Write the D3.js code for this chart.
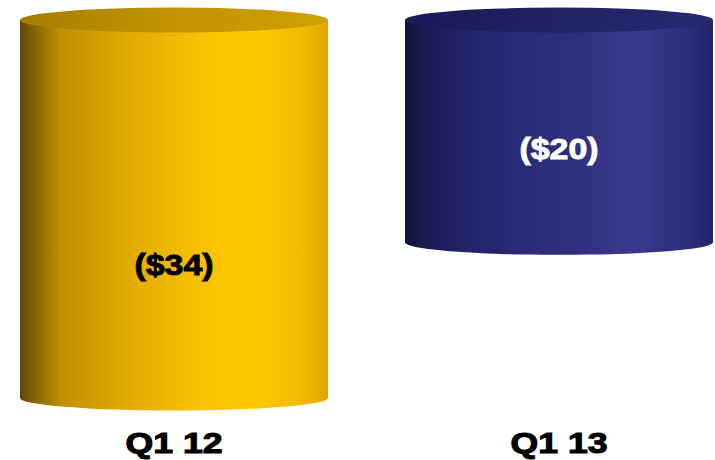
<!DOCTYPE html>
<html>
<head>
<meta charset="utf-8">
<script src="https://cdn.jsdelivr.net/npm/d3@7"></script>
<style>
  html, body { margin: 0; padding: 0; background: #ffffff; }
  svg { display: block; }
</style>
</head>
<body>
<svg id="chart" width="715" height="460"></svg>
<script>
// Quarterly results (millions, losses shown in parentheses)
const categories = ["Q1 12", "Q1 13"];
const values = [-34, -20];
const valueLabels = ["($34)", "($20)"];

// Per-cylinder styling
const sideStops = [
  [
    ["0%", "#5a4708"], ["4%", "#7e6204"], ["13%", "#bf8f00"], ["35%", "#e2ab00"],
    ["60%", "#f9c200"], ["76%", "#ffc900"], ["92%", "#f1ba00"], ["100%", "#ddA800"]
  ],
  [
    ["0%", "#121236"], ["6%", "#1b1b52"], ["25%", "#26266f"], ["55%", "#30307f"],
    ["74%", "#39398f"], ["90%", "#2e2e7e"], ["100%", "#23236a"]
  ]
];
const topStops = [
  [["0%", "#a57e00"], ["50%", "#c29400"], ["100%", "#cfa000"]],
  [["0%", "#1a1a55"], ["50%", "#222266"], ["100%", "#28286f"]]
];
const labelColors = ["#000000", "#ffffff"];
const labelDrop = [0.645, 0.577];   // label position as a share of the cylinder depth

const width = 715, height = 460;
const ry = 12.5;

const svg = d3.select("#chart");
const defs = svg.append("defs");

const x = d3.scaleBand()
  .domain(categories)
  .range([20, 713])
  .paddingInner(0.2)
  .paddingOuter(0);

const y = d3.scaleLinear()
  .domain([0, -34])
  .range([20, 398]);

categories.forEach((c, i) => {
  const side = defs.append("linearGradient").attr("id", "side" + i)
    .attr("x1", "0%").attr("x2", "100%").attr("y1", "0%").attr("y2", "0%");
  sideStops[i].forEach(([o, col]) => side.append("stop").attr("offset", o).attr("stop-color", col));
  const top = defs.append("linearGradient").attr("id", "top" + i)
    .attr("x1", "0%").attr("x2", "100%").attr("y1", "0%").attr("y2", "0%");
  topStops[i].forEach(([o, col]) => top.append("stop").attr("offset", o).attr("stop-color", col));
});

const bars = svg.selectAll("g.cyl")
  .data(categories.map((c, i) => ({ c, v: values[i], label: valueLabels[i], i })))
  .join("g")
  .attr("class", "cyl");

// Cylinder body: straight sides closed by the front half of the bottom ellipse
bars.append("path")
  .attr("d", d => {
    const l = x(d.c), r = x(d.c) + x.bandwidth();
    const rx = x.bandwidth() / 2;
    const t = y(0), b = y(d.v);
    return `M${l},${t} L${l},${b} A${rx},${ry} 0 0 0 ${r},${b} L${r},${t} Z`;
  })
  .attr("fill", d => `url(#side${d.i})`);

// Top face
bars.append("ellipse")
  .attr("cx", d => x(d.c) + x.bandwidth() / 2)
  .attr("cy", y(0))
  .attr("rx", x.bandwidth() / 2)
  .attr("ry", ry)
  .attr("fill", d => `url(#top${d.i})`);

// Value labels inside the cylinders
bars.append("text")
  .attr("x", d => x(d.c) + x.bandwidth() / 2)
  .attr("y", d => y(d.v * labelDrop[d.i]))
  .attr("dy", "0.36em")
  .attr("text-anchor", "middle")
  .attr("font-family", "Liberation Sans, Arial, sans-serif")
  .attr("font-weight", "bold")
  .attr("font-size", 30)
  .attr("textLength", 79)
  .attr("lengthAdjust", "spacingAndGlyphs")
  .attr("fill", d => labelColors[d.i])
  .attr("stroke", d => labelColors[d.i])
  .attr("stroke-width", 0.9)
  .text(d => d.label);

// Category axis labels
const xAxis = d3.axisBottom(x).tickSize(0).tickPadding(0);
const axisG = svg.append("g")
  .attr("transform", `translate(0, 430)`)
  .call(xAxis);
axisG.select(".domain").remove();
axisG.selectAll("text")
  .attr("dy", null)
  .attr("y", 23)
  .attr("font-family", "Liberation Sans, Arial, sans-serif")
  .attr("font-weight", "bold")
  .attr("font-size", 29)
  .attr("fill", "#000")
  .attr("stroke", "#000")
  .attr("stroke-width", 1.1)
  .attr("textLength", 97)
  .attr("lengthAdjust", "spacingAndGlyphs");
</script>
</body>
</html>
